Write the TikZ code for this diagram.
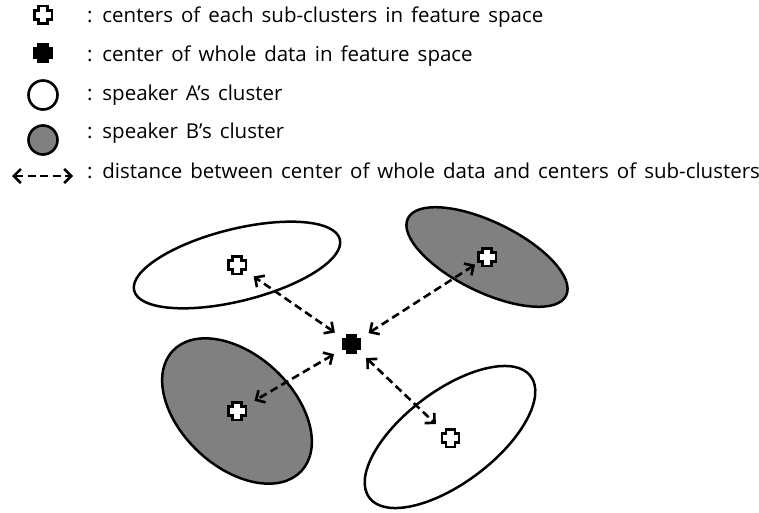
\documentclass[tikz,border=0pt]{standalone}
\usepackage{fontspec}
\setmainfont{Open Sans}[WordSpace=1.5]
\usetikzlibrary{arrows.meta,shapes.geometric}
\definecolor{clgray}{RGB}{128,128,128}
\begin{document}
\begin{tikzpicture}[x=1pt,y=1pt,
  cluster/.style={draw=black, ellipse, line width=2.5pt, inner sep=0pt},
  spkA/.style={cluster, fill=white},
  spkB/.style={cluster, fill=clgray},
  anchorpt/.style={circle, minimum size=40pt, inner sep=0pt},
  dist/.style={line width=2.6pt, dash pattern=on 8pt off 4.5pt,
    {Straight Barb[length=7pt,width=14pt,line width=2.6pt]}-{Straight Barb[length=7pt,width=14pt,line width=2.6pt]}},
  legtext/.style={anchor=base west, inner sep=0pt, font=\fontsize{20.5}{24}\selectfont},
  plusmark/.pic={
    \draw[line width=2.4pt, fill=#1, line join=miter]
      (-4.4,8.7) -- (4.4,8.7) -- (4.4,4.4) -- (8.7,4.4) -- (8.7,-4.4) -- (4.4,-4.4)
      -- (4.4,-8.7) -- (-4.4,-8.7) -- (-4.4,-4.4) -- (-8.7,-4.4) -- (-8.7,4.4)
      -- (-4.4,4.4) -- cycle;
  }]
\useasboundingbox (0,0) rectangle (759,-513);
\fill[white] (0,0) rectangle (759,-513);

% legend
\node[anchorpt, minimum size=20pt] (legsub) at (43,-15) {};
\pic at (legsub) {plusmark=white};
\node[anchorpt, minimum size=20pt] (legall) at (43,-53) {};
\pic at (legall) {plusmark=black};
\node[circle, draw, line width=2.6pt, fill=white, minimum size=29pt, inner sep=0pt] (legA) at (43,-95) {};
\node[circle, draw, line width=2.6pt, fill=clgray, minimum size=29pt, inner sep=0pt] (legB) at (43,-140) {};
\coordinate (legl) at (12,-176);
\coordinate (legr) at (73,-176);
\draw[dist] (legl) -- (legr);

\node[legtext] (t1) at (87,-22.5) {: centers of each sub-clusters in feature space};
\node[legtext] (t2) at (87,-61.5) {: center of whole data in feature space};
\node[legtext] (t3) at (87,-101) {: speaker A’s cluster};
\node[legtext] (t4) at (87,-139) {: speaker B’s cluster};
\node[legtext] (t5) at (87,-178) {: distance between center of whole data and centers of sub-clusters};

% clusters
\node[spkA, minimum width=212pt, minimum height=72pt, rotate=14] (e1) at (237,-265) {};
\node[spkB, minimum width=176pt, minimum height=70pt, rotate=-26] (e2) at (487,-257) {};
\node[spkB, minimum width=176pt, minimum height=112pt, rotate=-43] (e3) at (237,-411) {};
\node[spkA, minimum width=202pt, minimum height=92pt, rotate=37] (e4) at (450,-437) {};

% centres
\node[anchorpt] (c) at (351.5,-344) {};
\node[anchorpt] (p1) at (237,-265) {};
\node[anchorpt] (p2) at (487,-257) {};
\node[anchorpt] (p3) at (237,-411) {};
\node[anchorpt] (p4) at (450.5,-438) {};

\draw[dist] (c) -- (p1);
\draw[dist, shorten >=-6pt] (c) -- (p2);
\draw[dist] (c) -- (p3);
\draw[dist] (c) -- (p4);

\pic at (c) {plusmark=black};
\pic at (p1) {plusmark=white};
\pic at (p2) {plusmark=white};
\pic at (p3) {plusmark=white};
\pic at (p4) {plusmark=white};
\end{tikzpicture}
\end{document}
